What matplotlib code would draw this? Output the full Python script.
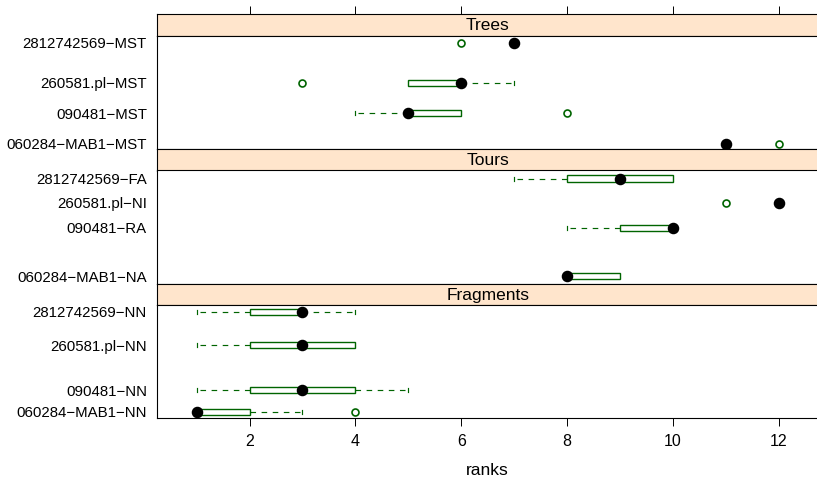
import matplotlib
matplotlib.use("Agg")
import matplotlib.pyplot as plt
from matplotlib.patches import Rectangle

plt.rcParams["font.family"] = ["Liberation Sans", "DejaVu Sans"]
plt.rcParams["lines.scale_dashes"] = False

# ------------------------- données ------------------------------------------------

panels = ["Trees", "Tours", "Fragments"]

trees_labels = ["2812742569−MST", "260581.pl−MST", "090481−MST", "060284−MAB1−MST"]
trees_pos = [0.938, 0.586, 0.317, 0.047]
trees_wlo = [7, 5, 4, 11]
trees_q1 = [7, 5, 5, 11]
trees_med = [7, 6, 5, 11]
trees_q3 = [7, 6, 6, 11]
trees_whi = [7, 7, 6, 11]
trees_out = [[6], [3], [8], [12]]

tours_labels = ["2812742569−FA", "260581.pl−NI", "090481−RA", "060284−MAB1−NA"]
tours_pos = [0.929, 0.714, 0.493, 0.065]
tours_wlo = [7, 12, 8, 8]
tours_q1 = [8, 12, 9, 8]
tours_med = [9, 12, 10, 8]
tours_q3 = [10, 12, 10, 9]
tours_whi = [10, 12, 10, 9]
tours_out = [[], [11], [], []]

frag_labels = ["2812742569−NN", "260581.pl−NN", "090481−NN", "060284−MAB1−NN"]
frag_pos = [0.941, 0.646, 0.248, 0.058]
frag_wlo = [1, 1, 1, 1]
frag_q1 = [2, 2, 2, 1]
frag_med = [3, 3, 3, 1]
frag_q3 = [3, 4, 4, 2]
frag_whi = [4, 4, 5, 3]
frag_out = [[], [], [], [4]]

xticks = [2, 4, 6, 8, 10, 12]

# ------------------------- mise en page (pixels) --------------------------

W, H = 817, 479
GREEN = "#006400"
STRIP = "#FFE5CC"
left_px, right_px = 156.7, 818.6
top_px = 14.3
strip_h = 21.5
panel_h = 113.2
xlim = (0.244, 12.756)
TIRETS = (0, (4, 4))

fig = plt.figure(figsize=(W / 100, H / 100), dpi=100)


def frac(x0, y0, x1, y1):
    return [x0 / W, 1 - y1 / H, (x1 - x0) / W, (y1 - y0) / H]


def dessiner_panel(ax, pos, wlo, q1, med, q3, whi, out):
    bh = 6.2 / panel_h
    cap = 2.0 / panel_h
    for i, y in enumerate(pos):
        # moustaches tracées depuis la boîte vers l'extrémité
        if wlo[i] < q1[i]:
            ax.plot([q1[i], wlo[i]], [y, y], color=GREEN, lw=0.85, ls=TIRETS)
            ax.plot([wlo[i], wlo[i]], [y - cap, y + cap], color=GREEN, lw=0.85)
        if whi[i] > q3[i]:
            ax.plot([q3[i], whi[i]], [y, y], color=GREEN, lw=0.85, ls=TIRETS)
            ax.plot([whi[i], whi[i]], [y - cap, y + cap], color=GREEN, lw=0.85)
        if q3[i] > q1[i]:
            ax.add_patch(Rectangle((q1[i], y - bh / 2), q3[i] - q1[i], bh,
                                   facecolor="white", edgecolor=GREEN, lw=1.0, zorder=3))
        if out[i]:
            ax.plot(out[i], [y] * len(out[i]), "o", mfc="none", mec=GREEN,
                    ms=5, mew=1.2, zorder=4)
        ax.plot([med[i]], [y], "o", color="black", ms=7.3, zorder=5)


donnees = [
    (trees_labels, trees_pos, trees_wlo, trees_q1, trees_med, trees_q3, trees_whi, trees_out),
    (tours_labels, tours_pos, tours_wlo, tours_q1, tours_med, tours_q3, tours_whi, tours_out),
    (frag_labels, frag_pos, frag_wlo, frag_q1, frag_med, frag_q3, frag_whi, frag_out),
]

y = top_px
for k, (nom, d) in enumerate(zip(panels, donnees)):
    labels, pos, wlo, q1, med, q3, whi, out = d

    sax = fig.add_axes(frac(left_px, y, right_px, y + strip_h))
    sax.set_facecolor(STRIP)
    sax.set_xlim(*xlim)
    sax.set_ylim(0, 1)
    sax.set_yticks([])
    sax.text(0.5, 0.47, nom, transform=sax.transAxes, ha="center", va="center", fontsize=12.5)
    for s in sax.spines.values():
        s.set_linewidth(0.8)
    if k == 0:
        sax.xaxis.tick_top()
        sax.set_xticks(xticks)
        sax.tick_params(axis="x", direction="out", length=6, width=0.7, labeltop=False)
    else:
        sax.set_xticks([])
    y += strip_h

    ax = fig.add_axes(frac(left_px, y, right_px, y + panel_h))
    ax.set_xlim(*xlim)
    ax.set_ylim(0, 1)
    dessiner_panel(ax, pos, wlo, q1, med, q3, whi, out)
    ax.set_yticks(pos)
    ax.set_yticklabels(labels, fontsize=10.8)
    ax.tick_params(axis="y", length=0, pad=7)
    for s in ax.spines.values():
        s.set_linewidth(0.8)
    if k == len(panels) - 1:
        ax.set_xticks(xticks)
        ax.tick_params(axis="x", direction="out", length=6, width=0.7, labelsize=11.5, pad=5)
        ax.set_xlabel("ranks", fontsize=12.5, labelpad=10)
    else:
        ax.set_xticks([])
    y += panel_h

fig.savefig("out.png", dpi=100)
